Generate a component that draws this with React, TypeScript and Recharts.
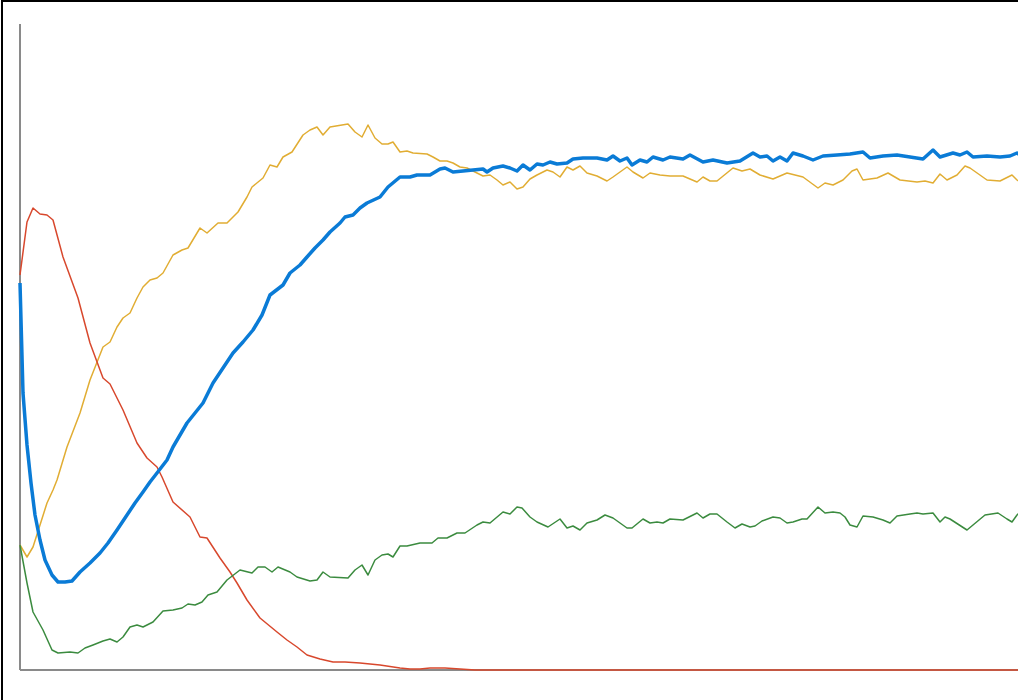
import { CartesianGrid, Line, LineChart, XAxis, YAxis } from "recharts";

// x = step along the run, y = level (0 at the baseline)
const blueX = [0, 3, 7, 11, 15, 20, 25, 32, 38, 45, 52, 60, 70, 80, 88, 97, 105, 115, 123, 130, 137, 147, 153, 167, 183, 193, 203, 213, 223, 233, 242, 250, 263, 270, 280, 287, 295, 303, 310, 320, 325, 333, 340, 347, 360, 368, 380, 390, 397, 410, 420, 425, 433, 443, 453, 463, 467, 473, 483, 490, 497, 503, 510, 517, 523, 530, 537, 547, 553, 563, 577, 587, 593, 600, 607, 612, 620, 627, 633, 643, 650, 663, 670, 683, 693, 707, 720, 733, 740, 747, 753, 760, 767, 773, 783, 793, 803, 817, 830, 843, 850, 863, 877, 890, 903, 913, 920, 933, 940, 947, 953, 967, 980, 990, 997, 1000];
const blueY = [387, 277, 225, 187, 155, 130, 110, 95, 88, 88, 89, 98, 107, 117, 127, 140, 152, 167, 178, 188, 197, 210, 223, 247, 267, 287, 302, 317, 328, 340, 355, 375, 385, 397, 405, 413, 422, 430, 438, 447, 453, 455, 462, 467, 473, 483, 493, 493, 495, 495, 501, 502, 498, 499, 500, 501, 498, 502, 504, 502, 499, 505, 500, 506, 505, 508, 506, 507, 511, 512, 512, 510, 514, 509, 512, 505, 510, 508, 513, 510, 513, 511, 515, 508, 510, 507, 509, 517, 513, 514, 509, 513, 509, 517, 514, 510, 514, 515, 516, 518, 512, 514, 515, 513, 511, 520, 513, 517, 515, 518, 513, 514, 513, 514, 517, 515];

const yellowX = [0, 7, 13, 20, 27, 33, 37, 47, 60, 70, 83, 90, 97, 103, 110, 117, 123, 130, 137, 143, 153, 162, 168, 180, 187, 198, 207, 218, 227, 232, 243, 250, 257, 263, 272, 283, 290, 297, 303, 310, 328, 335, 342, 348, 355, 362, 368, 373, 380, 387, 393, 407, 413, 420, 427, 433, 440, 447, 457, 463, 470, 477, 483, 490, 497, 503, 510, 517, 527, 533, 540, 547, 553, 560, 567, 577, 587, 593, 607, 613, 623, 630, 640, 650, 663, 677, 683, 690, 697, 713, 722, 730, 740, 753, 767, 783, 798, 805, 813, 823, 832, 837, 843, 857, 868, 880, 897, 905, 913, 920, 927, 937, 945, 950, 967, 980, 992, 997, 1000];
const yellowY = [125, 113, 123, 145, 167, 180, 190, 223, 257, 290, 323, 328, 343, 352, 357, 372, 383, 390, 392, 397, 415, 420, 422, 442, 437, 447, 447, 458, 473, 483, 492, 505, 503, 513, 518, 535, 540, 543, 535, 543, 546, 538, 533, 545, 532, 526, 526, 528, 518, 519, 517, 516, 513, 509, 509, 507, 503, 502, 497, 494, 495, 490, 485, 488, 481, 483, 491, 495, 500, 498, 493, 503, 500, 504, 497, 494, 489, 493, 503, 498, 492, 497, 495, 494, 494, 488, 493, 489, 489, 502, 499, 501, 495, 491, 497, 493, 482, 487, 485, 490, 499, 501, 490, 492, 497, 490, 488, 489, 487, 496, 490, 495, 504, 502, 490, 489, 495, 490, 488];

const redX = [0, 7, 13, 20, 27, 33, 43, 58, 70, 83, 90, 103, 117, 127, 137, 142, 153, 170, 180, 187, 200, 210, 217, 227, 240, 257, 267, 277, 287, 300, 313, 325, 340, 360, 380, 390, 400, 410, 425, 440, 455, 500, 600, 700, 800, 900, 1000];
const redY = [395, 448, 462, 456, 455, 450, 413, 372, 327, 292, 286, 260, 227, 212, 203, 193, 168, 153, 133, 132, 112, 98, 87, 70, 52, 38, 30, 23, 15, 11, 8, 8, 7, 5, 2, 1, 1, 2, 2, 1, 0, 0, 0, 0, 0, 0, 0];

const greenX = [0, 7, 13, 23, 32, 38, 50, 58, 65, 73, 83, 90, 97, 103, 110, 117, 123, 133, 143, 153, 162, 168, 175, 182, 188, 197, 207, 220, 232, 238, 245, 252, 258, 270, 277, 290, 297, 303, 310, 328, 335, 342, 348, 355, 362, 368, 373, 380, 387, 400, 412, 418, 427, 437, 445, 457, 463, 470, 483, 490, 497, 502, 510, 517, 528, 540, 547, 553, 560, 567, 577, 585, 593, 607, 612, 623, 630, 637, 643, 650, 663, 677, 683, 690, 697, 707, 715, 722, 730, 735, 742, 753, 760, 767, 773, 782, 787, 798, 805, 813, 820, 825, 830, 837, 843, 853, 863, 870, 877, 890, 897, 903, 913, 920, 925, 930, 947, 965, 978, 987, 992, 997, 1000];
const greenY = [125, 87, 58, 40, 20, 17, 18, 17, 22, 25, 29, 31, 28, 33, 43, 45, 43, 48, 59, 60, 62, 66, 65, 68, 75, 78, 90, 100, 97, 103, 103, 98, 103, 98, 93, 89, 90, 98, 93, 92, 100, 105, 95, 110, 115, 116, 113, 124, 124, 127, 127, 132, 132, 137, 137, 145, 148, 147, 158, 156, 163, 162, 153, 148, 143, 151, 142, 144, 140, 147, 150, 155, 152, 142, 142, 151, 147, 148, 147, 151, 150, 157, 152, 156, 156, 148, 142, 146, 143, 144, 149, 153, 152, 147, 148, 151, 151, 163, 157, 158, 157, 153, 145, 143, 154, 153, 150, 147, 154, 156, 157, 156, 157, 148, 153, 151, 140, 155, 157, 151, 148, 155, 158];

const toPoints = (xs: number[], ys: number[]) => xs.map((x, i) => ({ x, y: ys[i] }));

const series = [
  { name: "yellow", data: toPoints(yellowX, yellowY), color: "#e1ad33", width: 1.5 },
  { name: "red", data: toPoints(redX, redY), color: "#d8482d", width: 1.5 },
  { name: "green", data: toPoints(greenX, greenY), color: "#3b8b3f", width: 1.5 },
  { name: "blue", data: toPoints(blueX, blueY), color: "#0a7bd6", width: 3.5 },
];

export default function App() {
  return (
    <div style={{ position: "fixed", left: 0, top: 0, width: 1018, height: 700, overflow: "hidden", background: "#fff" }}>
      <div style={{ position: "absolute", left: 1, top: 0, width: 1100, height: 760, border: "2px solid #000" }}>
        <LineChart width={1060} height={720} margin={{ top: 22, left: 17, right: 43, bottom: 52 }}>
          {/* axis lines drawn as grid lines so the series sit on top of them */}
          <CartesianGrid
            stroke="#8a8a8a"
            strokeWidth={2}
            horizontalValues={[0]}
            verticalValues={[0]}
          />
          <XAxis dataKey="x" type="number" domain={[0, 1000]} hide />
          <YAxis type="number" domain={[0, 646]} hide />
          {series.map((s) => (
            <Line
              key={s.name}
              data={s.data}
              dataKey="y"
              type="linear"
              stroke={s.color}
              strokeWidth={s.width}
              strokeLinejoin="round"
              dot={false}
              activeDot={false}
              isAnimationActive={false}
            />
          ))}
        </LineChart>
      </div>
    </div>
  );
}
